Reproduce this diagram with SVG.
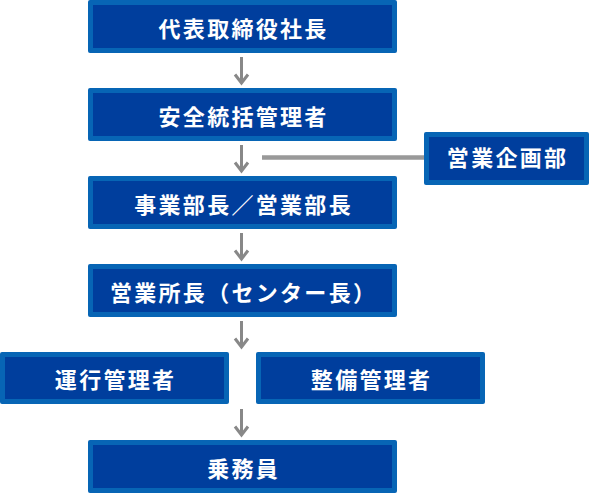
<svg xmlns="http://www.w3.org/2000/svg" width="589" height="493" viewBox="0 0 589 493">
<style>
.o{fill:#0765b5}
.i{fill:#003e9d}
.t{fill:#fff;font-family:"Noto Sans CJK JP","Noto Sans CJK SC",sans-serif;font-size:22px;font-weight:bold;letter-spacing:2.3px;text-anchor:middle}
.a{fill:none;stroke:#888;stroke-width:3}
.l{stroke:#999;stroke-width:4.5}
</style>
<rect width="589" height="493" fill="#fff"/>
<g id="connectors">
<path class="a" d="M241.5 57V83M235 74.5L241.5 83L248 74.5"/>
<path class="a" d="M241.5 145V171M235 162.5L241.5 171L248 162.5"/>
<path class="a" d="M241.5 233V259M235 250.5L241.5 259L248 250.5"/>
<path class="a" d="M241.5 321V347M235 338.5L241.5 347L248 338.5"/>
<path class="a" d="M241.5 409V435M235 426.5L241.5 435L248 426.5"/>
<line class="l" x1="262" y1="157.5" x2="424" y2="157.5"/>
</g>
<g id="n1"><rect class="o" x="88" y="0" width="309" height="53" rx="2"/><rect class="i" x="93" y="5" width="299" height="43"/><text class="t" x="243.6" y="36.5">代表取締役社長</text></g>
<g id="n2"><rect class="o" x="88" y="88" width="309" height="53" rx="2"/><rect class="i" x="93" y="93" width="299" height="43"/><text class="t" x="243.6" y="124.5">安全統括管理者</text></g>
<g id="n3"><rect class="o" x="424" y="132" width="165" height="53" rx="2"/><rect class="i" x="429" y="137" width="155" height="43"/><text class="t" x="507.6" y="166">営業企画部</text></g>
<g id="n4"><rect class="o" x="88" y="176" width="309" height="53" rx="2"/><rect class="i" x="93" y="181" width="299" height="43"/><text class="t" x="243.6" y="212.5">事業部長／営業部長</text></g>
<g id="n5"><rect class="o" x="88" y="264" width="309" height="53" rx="2"/><rect class="i" x="93" y="269" width="299" height="43"/><text class="t" x="243.6" y="300.5">営業所長（センター長）</text></g>
<g id="n6"><rect class="o" x="0" y="352" width="229" height="52" rx="2"/><rect class="i" x="5" y="357" width="219" height="42"/><text class="t" x="115.6" y="388">運行管理者</text></g>
<g id="n7"><rect class="o" x="256" y="352" width="229" height="52" rx="2"/><rect class="i" x="261" y="357" width="219" height="42"/><text class="t" x="371.6" y="388">整備管理者</text></g>
<g id="n8"><rect class="o" x="88" y="440" width="309" height="53" rx="2"/><rect class="i" x="93" y="445" width="299" height="43"/><text class="t" x="243.6" y="476.5">乗務員</text></g>
</svg>
